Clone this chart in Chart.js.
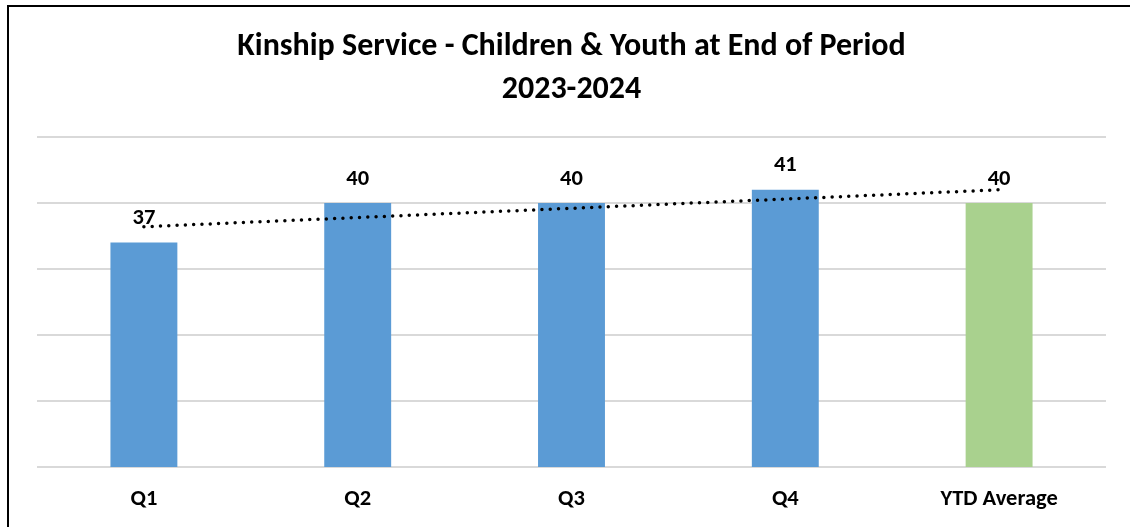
<!DOCTYPE html>
<html>
<head>
<meta charset="utf-8">
<script src="https://cdn.jsdelivr.net/npm/chart.js@4.4.1/dist/chart.umd.min.js"></script>
<style>
  html, body { margin: 0; padding: 0; background: #fff; }
  #wrap { position: relative; width: 1130px; height: 527px; }
</style>
</head>
<body>
<div id="wrap"><canvas id="kinshipChart"></canvas></div>
<script>
const categories = ["Q1", "Q2", "Q3", "Q4", "YTD Average"];
const childrenValues = [37, 40, 40, 41, 40];
// linear trend
const trendValues = [38.2, 38.9, 39.6, 40.3, 41.0];
const titleLines = ["Kinship Service - Children & Youth at End of Period", "2023-2024"];
const barColors = ["#5B9BD5", "#5B9BD5", "#5B9BD5", "#5B9BD5", "#A9D18E"];

const FONT = "Carlito, Lato, 'Liberation Sans', sans-serif";

// frame line on the left and top
const framePlugin = {
  id: "frame",
  beforeDraw(chart) {
    const ctx = chart.ctx;
    ctx.save();
    ctx.fillStyle = "#000";
    ctx.fillRect(7, 5, 2, chart.height - 5);
    ctx.fillRect(7, 5, chart.width - 7, 2);
    ctx.restore();
  },
};

// value labels above the bars
const valueLabels = {
  id: "valueLabels",
  afterDatasetsDraw(chart) {
    const ctx = chart.ctx;
    const meta = chart.getDatasetMeta(1);
    ctx.save();
    ctx.font = "bold 22.5px " + FONT;
    ctx.fillStyle = "#000";
    ctx.textAlign = "center";
    ctx.textBaseline = "middle";
    meta.data.forEach((bar, i) => {
      ctx.fillText(String(childrenValues[i]), bar.x, bar.y - 24);
    });
    ctx.restore();
  },
};

new Chart(document.getElementById("kinshipChart"), {
  type: "bar",
  data: {
    labels: categories,
    datasets: [
      {
        type: "line",
        label: "Trend",
        data: trendValues,
        borderColor: "#000",
        borderWidth: 3.5,
        borderDash: [0, 8.3],
        borderCapStyle: "round",
        pointRadius: 0,
        fill: false,
        tension: 0,
        order: 0,
      },
      {
        label: "Children & Youth",
        data: childrenValues,
        backgroundColor: barColors,
        barPercentage: 0.313,
        categoryPercentage: 1,
        order: 1,
      },
    ],
  },
  options: {
    responsive: true,
    maintainAspectRatio: false,
    animation: false,
    layout: { padding: { left: 37, right: 24, top: 0, bottom: 0 } },
    plugins: {
      legend: { display: false },
      tooltip: { enabled: false },
      title: {
        display: true,
        text: titleLines,
        color: "#000",
        font: { family: FONT, size: 32, weight: "bold", lineHeight: 1.344 },
        padding: { top: 25.5, bottom: 25.5 },
      },
    },
    scales: {
      x: {
        grid: { display: false, drawTicks: false },
        border: { display: false },
        ticks: {
          color: "#000",
          padding: 19,
          font: { family: FONT, size: 22.5, weight: "bold" },
        },
        afterFit(scale) { scale.height = 60; },
      },
      y: {
        min: 20,
        max: 45,
        ticks: { display: false, stepSize: 5 },
        grid: { color: "#D9D9D9", lineWidth: 2, drawTicks: false },
        border: { display: false },
        afterFit(scale) { scale.width = 0; },
      },
    },
  },
  plugins: [framePlugin, valueLabels],
});
</script>
</body>
</html>
